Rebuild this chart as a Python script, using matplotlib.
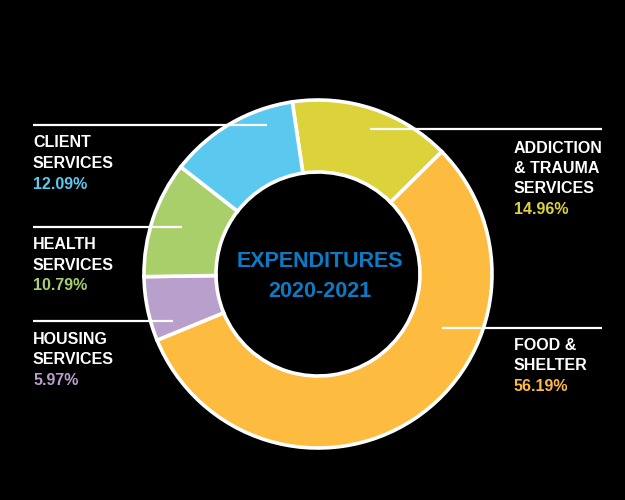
import matplotlib
matplotlib.use("Agg")
import matplotlib.pyplot as plt

# ── data ──
categories = ["ADDICTION\n& TRAUMA\nSERVICES", "FOOD &\nSHELTER", "HOUSING\nSERVICES",
              "HEALTH\nSERVICES", "CLIENT\nSERVICES"]
shares = [14.96, 56.19, 5.97, 10.79, 12.09]
colors = ["#DCD23A", "#FDBB40", "#B99FCB", "#A8CF6A", "#5BC9EF"]
center_title = ["EXPENDITURES", "2020-2021"]

plt.rcParams["font.family"] = ["Liberation Sans", "DejaVu Sans"]

W, H = 625, 500
fig = plt.figure(figsize=(W / 100, H / 100), dpi=100, facecolor="black")
ax = fig.add_axes([0, 0, 1, 1])
ax.set_facecolor("black")

def py(y):
    # pixel row (top-down) -> data y
    return H - y

cx, cy, r_out, r_in = 318, 274, 174, 102

ax.pie(shares, colors=colors, startangle=98.5, counterclock=False,
       center=(cx, py(cy)), radius=r_out, frame=True,
       wedgeprops=dict(width=r_out - r_in, edgecolor="white", linewidth=2.6))

ax.set_xlim(0, W)
ax.set_ylim(0, H)
ax.set_aspect("equal")
ax.axis("off")

# leader lines (pixel coords: x0, x1, y)
leaders = [(370, 602, 129), (442, 602, 328), (33, 173, 321), (33, 182, 227), (33, 267, 125)]
for x0, x1, y in leaders:
    ax.plot([x0, x1], [py(y), py(y)], color="white", lw=1.6, solid_capstyle="butt", zorder=5)

# label blocks: x, baselines of each line
label_pos = [
    (514, [153, 173, 193, 214]),
    (514, [350, 370, 391]),
    (33, [344, 364, 385]),
    (33, [249, 270, 290]),
    (33, [147, 168, 189]),
]
for name, share, col, (x, bases) in zip(categories, shares, colors, label_pos):
    lines = name.split("\n")
    for txt, b in zip(lines, bases):
        ax.text(x, py(b), txt, color="white", fontsize=11.5, fontweight="bold",
                ha="left", va="baseline")
    ax.text(x, py(bases[-1]), f"{share:.2f}%", color=col, fontsize=11.5,
            fontweight="bold", ha="left", va="baseline")

for txt, b in zip(center_title, [267, 297]):
    ax.text(320, py(b), txt, color="#0B7BC6", fontsize=15.5, fontweight="bold",
            ha="center", va="baseline")

fig.savefig("out.png", dpi=100, facecolor="black")
